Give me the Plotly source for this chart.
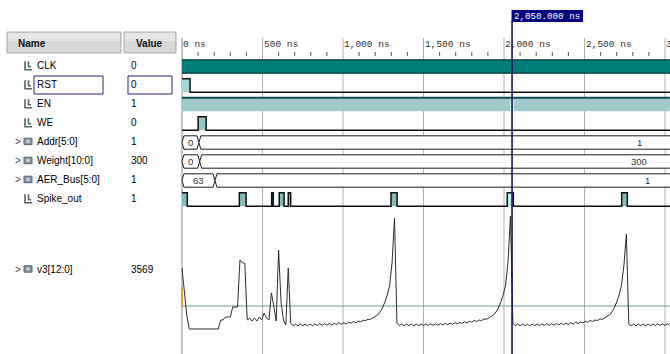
import plotly.graph_objects as go

# ---------------- data ----------------
signal_names = ["CLK", "RST", "EN", "WE", "Addr[5:0]", "Weight[10:0]", "AER_Bus[5:0]", "Spike_out"]
signal_values = ["0", "0", "1", "0", "1", "300", "1", "1"]
signal_is_bus = [False, False, False, False, True, True, True, False]
v3_name = "v3[12:0]"
v3_value = "3569"

time_ticks_ns = [0, 500, 1000, 1500, 2000, 2500, 3000]
time_tick_labels = ["0 ns", "500 ns", "1,000 ns", "1,500 ns", "2,000 ns", "2,500 ns", "3,000 ns"]
minor_tick_step_ns = 100
cursor_ns = 2050
cursor_label = "2,050.000 ns"

clk_toggling = [(0, 3600)]
rst_high = [(0, 50)]
en_high = [(0, 3600)]
we_high = [(100, 150)]
spike_high = [(0, 33), (356, 398), (557, 567), (604, 634), (660, 675),
              (1298, 1336), (2020, 2058), (2731, 2766)]

addr_changes = [0, 105]
addr_vals = ["0", "1"]
weight_changes = [0, 110]
weight_vals = ["0", "300"]
aer_changes = [0, 205]
aer_vals = ["63", "1"]

v3_step_ns = 15
v3 = [5540, 4580, 3620, 3100,
      3100, 3100, 3100, 3100, 3100, 3100, 3100, 3100, 3100, 3100, 3100, 3100,
      3460, 3460, 3580, 3580, 3580, 3980, 3980, 3980, 5860, 5740, 5740, 3460,
      3540, 3420, 3540, 3420, 3580, 3460, 3740, 3540, 3460, 4540, 4020, 3420, 6260, 4180, 3460, 3260, 5540, 3340,
      3230, 3295, 3225, 3300, 3230, 3295, 3225, 3300, 3235, 3300,
      3245, 3315, 3245, 3320, 3250, 3320, 3255, 3325, 3280, 3350,
      3285, 3355, 3300, 3370, 3330, 3400, 3350, 3420, 3390, 3450,
      3430, 3490, 3480, 3540, 3580, 3660, 3780, 3940, 4180, 4460,
      4860, 5780, 7540, 3340,
      3230, 3300, 3225, 3295, 3230, 3300, 3225, 3300, 3230, 3300,
      3235, 3305, 3240, 3310, 3245, 3315, 3250, 3320, 3260, 3330,
      3270, 3340, 3285, 3355, 3300, 3370, 3320, 3390, 3340, 3410,
      3370, 3440, 3400, 3460, 3440, 3500, 3490, 3545, 3580, 3660,
      3780, 3940, 4180, 4460, 4860, 5780, 7620, 3340,
      3230, 3300, 3225, 3295, 3230, 3300, 3225, 3300, 3230, 3300,
      3235, 3305, 3240, 3310, 3245, 3315, 3250, 3320, 3260, 3330,
      3270, 3340, 3285, 3355, 3300, 3370, 3320, 3390, 3340, 3410,
      3370, 3440, 3400, 3460, 3440, 3500, 3490, 3545, 3580, 3660,
      3780, 3940, 4180, 4460, 4860, 5660, 6900, 3300,
      3230, 3300, 3225, 3295, 3230, 3300, 3225, 3300, 3230, 3300,
      3235, 3305, 3240, 3310, 3245, 3315, 3250]
v3_unknown_at_start = [3980, 4780]

# ---------------- layout constants ----------------
W, H = 670, 354
T0_PX = 182.0
PX_PER_NS = 0.161
T_END = 3600
VIEW_END_NS = 5560          # right edge of the (cropped) wave window
V3_BOTTOM = 2100
V3_PER_PX = 40
ROW0, ROW_PITCH, HALF = 66.5, 19.0, 6.7
V3_ROW_Y = 270

t_min = -T0_PX / PX_PER_NS
t_max = (W - T0_PX) / PX_PER_NS


def P(px):
    return px / W


fig = go.Figure()
shapes = []
annos = []


def add_line(x, y, color, width, yaxis="y"):
    fig.add_trace(go.Scatter(x=x, y=y, mode="lines", yaxis=yaxis,
                             line=dict(color=color, width=width),
                             hoverinfo="skip", showlegend=False))


def add_fill(x, y, color, edge=None, ew=0):
    fig.add_trace(go.Scatter(x=x, y=y, mode="lines", fill="toself", fillcolor=color,
                             line=dict(color=edge or color, width=ew),
                             hoverinfo="skip", showlegend=False))


def digital(c, highs, fill, edge, width=1.5, hi_fill=None):
    hi, lo = c - HALF, c + HALF
    for a, b in highs:
        fc = hi_fill if (hi_fill and a <= cursor_ns <= b) else fill
        add_fill([a, a, b, b, a], [lo, hi, hi, lo, lo], fc)
    xs, ys = [0], [hi if highs and highs[0][0] <= 0 else lo]
    for a, b in highs:
        if a > 0:
            xs += [a, a]
            ys += [lo, hi]
        if b < T_END:
            xs += [b, b]
            ys += [hi, lo]
    xs.append(T_END)
    ys.append(ys[-1])
    add_line(xs, ys, edge, width)


def bus(c, changes, vals):
    hi, lo = c - HALF, c + HALF
    h = 12
    bounds = list(changes) + [T_END + 500]
    for k, v in enumerate(vals):
        a, b = bounds[k], bounds[k + 1]
        xs = [a, a + h, b - h, b, b - h, a + h, a]
        ys = [c, hi, hi, c, lo, lo, c]
        add_fill(xs, ys, "white", "#1e1e1e", 1)
        cx = (a + b) / 2 if k < len(vals) - 1 else (a + h + VIEW_END_NS) / 2
        annos.append(dict(x=cx, y=c, xref="x", yref="y", text=v, showarrow=False,
                          font=dict(family="Liberation Sans", size=9.5, color="#333"),
                          xanchor="center", yanchor="middle"))


# ---------------- grid / ruler ----------------
for t in time_ticks_ns:
    shapes.append(dict(type="line", xref="x", yref="y", x0=t, x1=t, y0=38, y1=H,
                       line=dict(color="#8a8a8a" if t == 0 else "#b2b2b2", width=1), layer="below"))
for t, lab in zip(time_ticks_ns, time_tick_labels):
    annos.append(dict(x=t, y=44, xref="x", yref="y", text=lab, showarrow=False, xanchor="left",
                      yanchor="middle", xshift=-1,
                      font=dict(family="Liberation Mono", size=9.5, color="#333")))
mx, my = [], []
for t in range(0, int(t_max) + 1, minor_tick_step_ns):
    if t % 500:
        mx += [t, t, None]
        my += [52, 56, None]
add_line(mx, my, "#555555", 1)

# ---------------- digital signals ----------------
rows = [ROW0 + ROW_PITCH * i for i in range(len(signal_names))]

# CLK (dense toggling shown as a solid band)
c = rows[0]
for a, b in clk_toggling:
    add_fill([a, a, b, b, a], [c + HALF, c - HALF, c - HALF, c + HALF, c + HALF], "#007f7a")
    add_line([a, b], [c - HALF, c - HALF], "#0b3b3b", 1.3)
    add_line([a, b], [c + HALF, c + HALF], "#0b3b3b", 1.3)

digital(rows[1], rst_high, "#a6d6d6", "#111111")
digital(rows[2], en_high, "#a0c9c9", "#0e4f4f", 2)
digital(rows[3], we_high, "#8fc6c6", "#111111")
bus(rows[4], addr_changes, addr_vals)
bus(rows[5], weight_changes, weight_vals)
bus(rows[6], aer_changes, aer_vals)
digital(rows[7], spike_high, "#82bdbd", "#111111", 1.5, hi_fill="#b6f0f0")

# EN cursor glow
shapes.append(dict(type="rect", xref="x", yref="y", x0=cursor_ns - 14, x1=cursor_ns + 14,
                   y0=rows[2] - HALF + 1.5, y1=rows[2] + HALF, fillcolor="#c8f6f6",
                   line=dict(width=0), layer="above", opacity=0.8))

# ---------------- analog v3 ----------------
shapes.append(dict(type="line", xref="x", yref="y", x0=0, x1=T_END, y0=306, y1=306,
                   line=dict(color="#6a9c9c", width=1), layer="below"))
add_line([i * v3_step_ns for i in range(len(v3))], v3, "#2e2e2e", 1, yaxis="y2")
add_line([0, 0], v3_unknown_at_start, "#e39a12", 1.5, yaxis="y2")

# ---------------- cursor ----------------
shapes.append(dict(type="line", xref="x", yref="y", x0=cursor_ns, x1=cursor_ns, y0=21, y1=H,
                   line=dict(color="#16165a", width=1.6), layer="above"))
shapes.append(dict(type="rect", xref="x", yref="y", x0=cursor_ns - 0.5 / PX_PER_NS,
                   x1=cursor_ns + 71 / PX_PER_NS, y0=10, y1=22,
                   fillcolor="#000080", line=dict(width=0), layer="above"))
annos.append(dict(x=cursor_ns, y=16.5, xref="x", yref="y", text=cursor_label, showarrow=False,
                  xanchor="left", yanchor="middle", xshift=0,
                  font=dict(family="Liberation Mono", size=9.2, color="white")))

# ---------------- left panel ----------------
for x0, x1, lab, tx in [(7, 121, "Name", 16), (124, 176, "Value", 134)]:
    shapes.append(dict(type="rect", xref="paper", yref="y", x0=P(x0), x1=P(x1), y0=32, y1=53,
                       fillcolor="#d8d8d8", line=dict(color="#a9a9a9", width=1), layer="above"))
    shapes.append(dict(type="rect", xref="paper", yref="y", x0=P(x0 + 1), x1=P(x1 - 1), y0=33, y1=41,
                       fillcolor="#e6e6e6", line=dict(width=0), layer="above"))
    annos.append(dict(x=P(tx), y=43, xref="paper", yref="y", text="<b>%s</b>" % lab, showarrow=False,
                      xanchor="left", yanchor="middle",
                      font=dict(family="Liberation Sans", size=10, color="#111")))


def bit_icon(y):
    shapes.append(dict(type="path", xref="paper", yref="y",
                       path="M %f,%f L %f,%f L %f,%f M %f,%f L %f,%f L %f,%f" % (
                           P(25), y - 4.5, P(25), y + 4, P(32), y + 4,
                           P(28.5), y - 4.5, P(28.5), y + 1, P(31), y + 1),
                       line=dict(color="#56665a", width=1.6), layer="above"))


def bus_icon(y):
    shapes.append(dict(type="rect", xref="paper", yref="y", x0=P(24), x1=P(32), y0=y - 3.5, y1=y + 3,
                       fillcolor="#8a96a3", line=dict(color="#5b6672", width=1), layer="above"))
    shapes.append(dict(type="rect", xref="paper", yref="y", x0=P(26.5), x1=P(29.5), y0=y - 1.5, y1=y + 1,
                       fillcolor="#d6dbe0", line=dict(width=0), layer="above"))
    annos.append(dict(x=P(12.5), y=y, xref="paper", yref="y", text=">", showarrow=False,
                      xanchor="left", yanchor="middle",
                      font=dict(family="Liberation Sans", size=10, color="#444")))


label_rows = rows + [V3_ROW_Y]
for name, val, isb, y in zip(signal_names + [v3_name], signal_values + [v3_value],
                             signal_is_bus + [True], label_rows):
    ty = y - 0.8
    if isb:
        bus_icon(ty)
    else:
        bit_icon(ty)
    annos.append(dict(x=P(35), y=ty, xref="paper", yref="y", text=name, showarrow=False,
                      xanchor="left", yanchor="middle",
                      font=dict(family="Liberation Sans", size=10, color="#000")))
    annos.append(dict(x=P(129), y=ty, xref="paper", yref="y", text=val, showarrow=False,
                      xanchor="left", yanchor="middle",
                      font=dict(family="Liberation Sans", size=10, color="#000")))

# RST selection boxes
for x0, x1 in [(34, 103), (128, 172)]:
    shapes.append(dict(type="rect", xref="paper", yref="y", x0=P(x0), x1=P(x1), y0=76, y1=94,
                       line=dict(color="#27277a", width=1), fillcolor="rgba(0,0,0,0)", layer="above"))

fig.update_layout(
    width=W, height=H, margin=dict(l=0, r=0, t=0, b=0),
    paper_bgcolor="white", plot_bgcolor="white", showlegend=False,
    xaxis=dict(range=[t_min, t_max], domain=[0, 1], visible=False, fixedrange=True),
    yaxis=dict(range=[H, 0], domain=[0, 1], visible=False, fixedrange=True),
    yaxis2=dict(range=[V3_BOTTOM, V3_BOTTOM + H * V3_PER_PX], overlaying="y", anchor="x",
                visible=False, fixedrange=True),
    shapes=shapes, annotations=annos,
)

fig.write_html("out.html", config={"displayModeBar": False},
               post_script="document.body.style.margin='0px';document.body.style.overflow='hidden';")
